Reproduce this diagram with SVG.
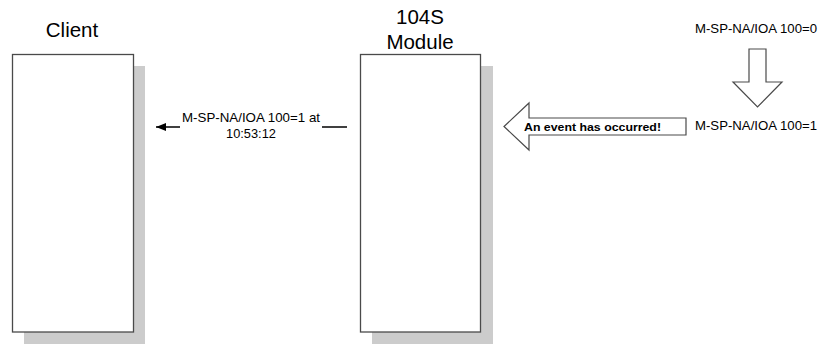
<svg xmlns="http://www.w3.org/2000/svg" width="820" height="344" viewBox="0 0 820 344">
  <defs>
    <marker id="ah" markerWidth="10" markerHeight="8" refX="10" refY="4" orient="auto" markerUnits="userSpaceOnUse">
      <path d="M0,0 L10,4 L0,8 Z" fill="#000"/>
    </marker>
  </defs>
  <style>
    .box { fill: #ffffff; stroke: #4a4a4a; stroke-width: 1.3; }
    .shadow { fill: #cccccc; }
    .title { font-family: "Liberation Sans", Arial, sans-serif; font-size: 20.5px; fill: #000; text-anchor: middle; }
    .lbl { font-family: "Liberation Sans", Arial, sans-serif; font-size: 12.8px; fill: #000; }
    .bold { font-family: "Liberation Sans", Arial, sans-serif; font-size: 11.5px; font-weight: bold; fill: #000; }
    .bigarrow { fill: #ffffff; stroke: #4a4a4a; stroke-width: 1.2; }
    .conn { stroke: #000; stroke-width: 1.5; fill: none; }
  </style>
  <rect x="0" y="0" width="820" height="344" fill="#ffffff"/>

  <g id="client">
    <rect class="shadow" x="24" y="66" width="121" height="278"/>
    <rect class="box" x="12.5" y="54.5" width="121" height="277.5"/>
    <text class="title" x="72" y="37">Client</text>
  </g>

  <g id="module">
    <rect class="shadow" x="372" y="66" width="121" height="278"/>
    <rect class="box" x="360.5" y="54.5" width="120" height="277.5"/>
    <text class="title" x="420" y="24">104S</text>
    <text class="title" x="420" y="49">Module</text>
  </g>

  <g id="state-change">
    <text class="lbl" x="695" y="33" textLength="122" lengthAdjust="spacingAndGlyphs">M-SP-NA/IOA 100=0</text>
    <polygon class="bigarrow" points="749,49 766,49 766,82 782,82 757.5,107 733,82 749,82"/>
    <text class="lbl" x="695" y="130" textLength="122" lengthAdjust="spacingAndGlyphs">M-SP-NA/IOA 100=1</text>
  </g>

  <g id="event-arrow">
    <polygon class="bigarrow" points="686,118 529,118 529,103 504,126.5 529,150 529,135 686,135"/>
    <text class="bold" x="524" y="130.5" textLength="137" lengthAdjust="spacingAndGlyphs">An event has occurred!</text>
  </g>

  <g id="connectors">
    <line class="conn" x1="347" y1="127" x2="322" y2="127"/>
    <line class="conn" x1="180" y1="127" x2="156" y2="127" marker-end="url(#ah)"/>
    <text class="lbl" x="182" y="122" textLength="138" lengthAdjust="spacingAndGlyphs">M-SP-NA/IOA 100=1 at</text>
    <text class="lbl" x="251" y="138" text-anchor="middle">10:53:12</text>
  </g>
</svg>
